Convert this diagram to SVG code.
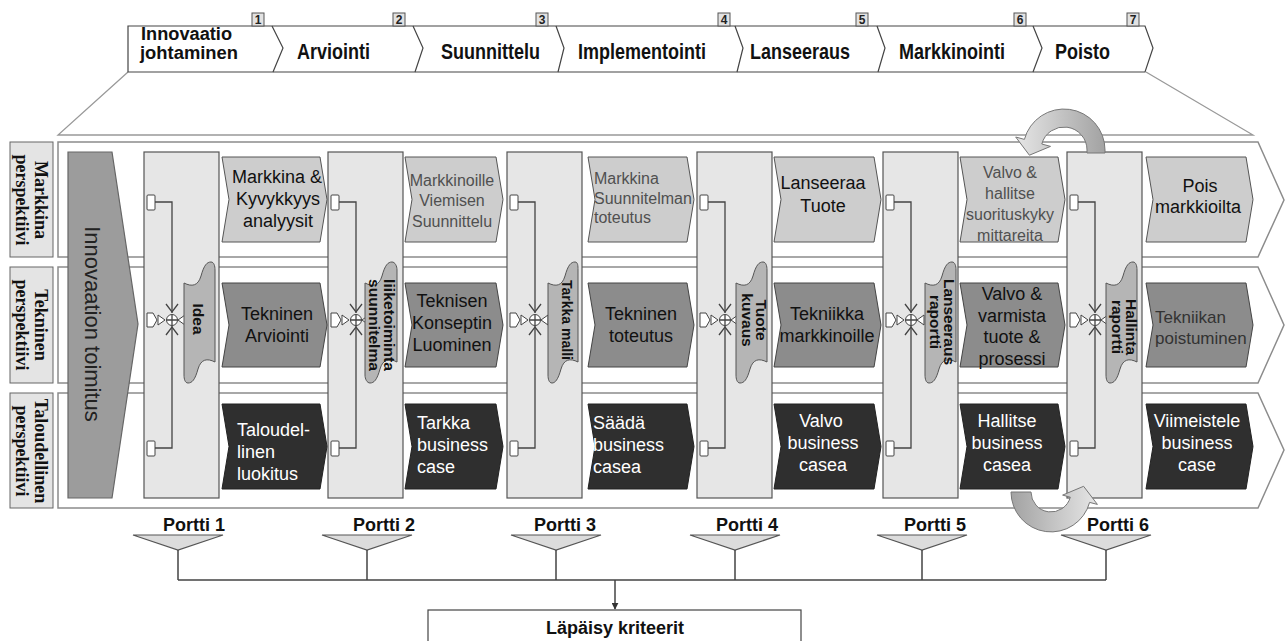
<svg xmlns="http://www.w3.org/2000/svg" width="1286" height="641" viewBox="0 0 1286 641">
<defs>
<style>
.t{font-family:"Liberation Sans",Arial,sans-serif}
.hd{font-size:18px;font-weight:bold;fill:#111}
.num{font-size:12px;font-weight:bold;fill:#222;text-anchor:middle}
.nbox{fill:#e2e2e2;stroke:#555;stroke-width:1}
.tab{fill:#fff;stroke:#444;stroke-width:1.2}
.frame{fill:none;stroke:#999;stroke-width:1.3}
.lane{fill:#fff;stroke:#8c8c8c;stroke-width:1.5}
.lbl{fill:#e4e4e4;stroke:#666;stroke-width:1}
.lt{font-family:"Liberation Serif","Times New Roman",serif;font-size:18px;font-weight:bold;fill:#111;text-anchor:middle}
.gate{fill:#e6e6e6;stroke:#555;stroke-width:1.2}
.b1{fill:#cdcdcd;stroke:#555}
.b2{fill:#8c8c8c;stroke:#444}
.b3{fill:#2f2f2f;stroke:#222}
.bx{font-size:18px;fill:#111}
.gx{font-size:16px;fill:#505050}
.dx{font-size:17px;fill:#333}
.wx{font-size:18px;fill:#fff}
.mid{text-anchor:middle}
.doc{fill:#b5b5b5;stroke:#555;stroke-width:1}
.dt{font-size:15.5px;font-weight:bold;fill:#111;text-anchor:middle}
.port{fill:#fff;stroke:#444;stroke-width:1}
.wire{fill:none;stroke:#444;stroke-width:1.3}
.pt{font-size:18px;font-weight:bold;fill:#111;text-anchor:middle}
.funnel{fill:#dcdcdc;stroke:#555;stroke-width:1.2}
.link{fill:none;stroke:#444;stroke-width:1.5}
.loop{stroke:#777;stroke-width:1}
</style>
<linearGradient id="gTop" x1="0" y1="0" x2="1" y2="0">
<stop offset="0" stop-color="#e6e6e6"/><stop offset="1" stop-color="#a2a2a2"/>
</linearGradient>
<linearGradient id="gBot" x1="0" y1="0" x2="1" y2="0">
<stop offset="0" stop-color="#a2a2a2"/><stop offset="1" stop-color="#e6e6e6"/>
</linearGradient>
<marker id="arr" viewBox="0 0 10 10" refX="9" refY="5" markerWidth="7" markerHeight="7" orient="auto" markerUnits="userSpaceOnUse">
<path d="M0,0 L10,5 L0,10 Z" fill="#333"/>
</marker>
<!-- wiring inside every gate column, drawn at gate x = 0 -->
<g id="gateWiring">
<rect class="port" x="3" y="195" width="8" height="15" rx="1"/>
<rect class="port" x="3" y="441" width="8" height="15" rx="1"/>
<path class="wire" d="M11,202 H28 V313"/>
<path class="wire" d="M11,448 H28 V326"/>
<path class="wire" d="M22,304 L28,312 L34,304"/>
<path class="wire" d="M22,335 L28,327 L34,335"/>
<path class="port" d="M3,313 H9 L13,320 L9,327 H3 Z"/>
<path class="port" d="M14,315 L21,320 L14,325 Z"/>
<circle cx="28" cy="320" r="5.5" fill="#fff" stroke="#444"/>
<path class="wire" d="M22.5,320 H33.5 M28,314.5 V325.5"/>
<path class="port" d="M34,320 L41,315 L41,325 Z"/>
</g>
</defs>

<rect width="1286" height="641" fill="#fff"/>

<!-- phase header -->
<g id="phases" class="t">
<path class="frame" d="M128,72 L58,135 L1253,135 L1146,72"/>
<path class="tab" d="M128,26 H1145 L1153,48 L1145,72 H128 Z"/>
<polyline fill="none" stroke="#444" stroke-width="1.2" points="272,26 283,48 273,72"/>
<polyline fill="none" stroke="#444" stroke-width="1.2" points="413,26 423,48 415,72"/>
<polyline fill="none" stroke="#444" stroke-width="1.2" points="556,26 564,48 558,72"/>
<polyline fill="none" stroke="#444" stroke-width="1.2" points="735,26 743,48 737,72"/>
<polyline fill="none" stroke="#444" stroke-width="1.2" points="877,26 885,48 878,72"/>
<polyline fill="none" stroke="#444" stroke-width="1.2" points="1033,26 1042,48 1033,72"/>
<rect class="nbox" x="252" y="13" width="12" height="13"/><text class="num" x="258" y="24">1</text>
<rect class="nbox" x="393" y="13" width="12" height="13"/><text class="num" x="399" y="24">2</text>
<rect class="nbox" x="536" y="13" width="12" height="13"/><text class="num" x="542" y="24">3</text>
<rect class="nbox" x="718" y="13" width="12" height="13"/><text class="num" x="724" y="24">4</text>
<rect class="nbox" x="856" y="13" width="12" height="13"/><text class="num" x="862" y="24">5</text>
<rect class="nbox" x="1014" y="13" width="12" height="13"/><text class="num" x="1020" y="24">6</text>
<rect class="nbox" x="1127" y="13" width="12" height="13"/><text class="num" x="1133" y="24">7</text>
<text class="hd" font-size="16.5"><tspan x="141" y="39.5" textLength="91" lengthAdjust="spacingAndGlyphs">Innovaatio</tspan><tspan x="140" y="59" textLength="98" lengthAdjust="spacingAndGlyphs">johtaminen</tspan></text>
<text class="hd" transform="translate(297,59) scale(1,1.2)">Arviointi</text>
<text class="hd" transform="translate(441,59) scale(1,1.2)">Suunnittelu</text>
<text class="hd" transform="translate(578,59) scale(1,1.2)">Implementointi</text>
<text class="hd" transform="translate(750,59) scale(1,1.2)">Lanseeraus</text>
<text class="hd" transform="translate(899,59) scale(1,1.2)">Markkinointi</text>
<text class="hd" transform="translate(1055,59) scale(1,1.2)">Poisto</text>
</g>

<!-- perspective lanes -->
<g id="lanes">
<path class="lane" d="M58,142 L1258,142 L1284,200 L1258,257 L58,257 Z"/>
<path class="lane" d="M58,267 L1258,267 L1284,325 L1258,383 L58,383 Z"/>
<path class="lane" d="M58,393 L1258,393 L1284,450 L1258,508 L58,508 Z"/>
</g>

<g id="laneLabels">
<rect class="lbl" x="10" y="142" width="43" height="115"/>
<rect class="lbl" x="10" y="267" width="43" height="116"/>
<rect class="lbl" x="10" y="393" width="43" height="115"/>
<text class="lt" transform="translate(0,200) rotate(90)"><tspan x="0" y="-35">Markkina</tspan><tspan x="0" y="-16">perspektiivi</tspan></text>
<text class="lt" transform="translate(0,325) rotate(90)"><tspan x="0" y="-35">Tekninen</tspan><tspan x="0" y="-16">perspektiivi</tspan></text>
<text class="lt" transform="translate(0,451) rotate(90)"><tspan x="0" y="-35">Taloudellinen</tspan><tspan x="0" y="-16">perspektiivi</tspan></text>
</g>

<!-- innovation delivery -->
<g id="innovaatio">
<path d="M68,152 H112 L138,324 L112,498 H68 Z" fill="#9c9c9c" stroke="#666" stroke-width="1.2"/>
<text class="t" font-size="22" fill="#222" text-anchor="middle" transform="translate(85,324) rotate(90)">Innovaation toimitus</text>
</g>

<!-- gates -->
<g id="gate1">
<rect class="gate" x="144" y="152" width="75" height="346"/>
<use href="#gateWiring" x="144"/>
</g>
<g id="gate2">
<rect class="gate" x="328" y="152" width="75" height="346"/>
<use href="#gateWiring" x="328"/>
</g>
<g id="gate3">
<rect class="gate" x="507" y="152" width="75" height="346"/>
<use href="#gateWiring" x="507"/>
</g>
<g id="gate4">
<rect class="gate" x="697" y="152" width="75" height="346"/>
<use href="#gateWiring" x="697"/>
</g>
<g id="gate5">
<rect class="gate" x="883" y="152" width="75" height="346"/>
<use href="#gateWiring" x="883"/>
</g>
<g id="gate6">
<rect class="gate" x="1067" y="152" width="75" height="346"/>
<use href="#gateWiring" x="1067"/>
</g>

<!-- gate deliverables -->
<g id="deliverables" class="t">
<g id="d1">
<path class="doc" d="M184,283 C192,287 198,286 201,276 C204,265 207,262 211,262 C214,262 215,266 215,270 L215,362 C207,358 201,359 198,369 C195,380 192,383 188,383 C185,383 184,379 184,375 Z"/>
<text class="dt" font-size="18.5" transform="translate(193,319) rotate(90)">Idea</text>
</g>
<g id="d2">
<path class="doc" d="M365,283 C373,287 379,286 382,276 C385,265 388,262 392,262 C395,262 397,266 397,270 L397,362 C389,358 383,359 380,369 C377,380 374,383 370,383 C367,383 365,379 365,375 Z"/>
<text class="dt" font-size="13" transform="translate(0,325) rotate(90)"><tspan x="0" y="-384" textLength="92" lengthAdjust="spacingAndGlyphs">liiketoiminta</tspan><tspan x="0" y="-369" textLength="92" lengthAdjust="spacingAndGlyphs">suunnitelma</tspan></text>
</g>
<g id="d3">
<path class="doc" d="M548,283 C556,287 562,286 565,276 C568,265 571,262 575,262 C578,262 578,266 578,270 L578,362 C570,358 564,359 561,369 C558,380 555,383 552,383 C549,383 548,379 548,375 Z"/>
<text class="dt" font-size="15" transform="translate(562,320) rotate(90)" textLength="80" lengthAdjust="spacingAndGlyphs">Tarkka malli</text>
</g>
<g id="d4">
<path class="doc" d="M736,283 C744,287 750,286 753,276 C756,265 759,262 763,262 C766,262 767,266 767,270 L767,362 C759,358 753,359 750,369 C747,380 744,383 740,383 C737,383 736,379 736,375 Z"/>
<text class="dt" transform="translate(0,320) rotate(90)"><tspan x="0" y="-756">Tuote</tspan><tspan x="0" y="-742">kuvaus</tspan></text>
</g>
<g id="d5">
<path class="doc" d="M925,283 C933,287 939,286 942,276 C945,265 948,262 952,262 C955,262 956,266 956,270 L956,362 C948,358 942,359 939,369 C936,380 933,383 929,383 C926,383 925,379 925,375 Z"/>
<text class="dt" transform="translate(0,322) rotate(90)"><tspan x="0" y="-944">Lanseeraus</tspan><tspan x="0" y="-930">raportti</tspan></text>
</g>
<g id="d6">
<path class="doc" d="M1106,283 C1114,287 1120,286 1123,276 C1126,265 1129,262 1133,262 C1136,262 1137,266 1137,270 L1137,362 C1129,358 1123,359 1120,369 C1117,380 1114,383 1110,383 C1107,383 1106,379 1106,375 Z"/>
<text class="dt" transform="translate(0,327) rotate(90)"><tspan x="0" y="-1126">Hallinta</tspan><tspan x="0" y="-1112">raportti</tspan></text>
</g>
</g>

<!-- market perspective activities -->
<g id="row1" class="t">
<g id="m1"><path class="b1" d="M222,157 L320,157 L327,199.5 L320,242 L222,242 L229,199.5 Z"/>
<text class="bx mid"><tspan x="277" y="183">Markkina &amp;</tspan><tspan x="278" y="205">Kyvykkyys</tspan><tspan x="278" y="227">analyysit</tspan></text></g>
<g id="m2"><path class="b1" d="M405,157 L496,157 L503,199.5 L496,242 L405,242 L412,199.5 Z"/>
<text class="gx mid"><tspan x="452" y="186">Markkinoille</tspan><tspan x="452" y="206">Viemisen</tspan><tspan x="452" y="227">Suunnittelu</tspan></text></g>
<g id="m3"><path class="b1" d="M588,157 L687,157 L694,199.5 L687,242 L588,242 L595,199.5 Z"/>
<text class="gx"><tspan x="594" y="184">Markkina</tspan><tspan x="594" y="204">Suunnitelman</tspan><tspan x="594" y="223">toteutus</tspan></text></g>
<g id="m4"><path class="b1" d="M774,157 L874,157 L881,199.5 L874,242 L774,242 L781,199.5 Z"/>
<text class="bx mid"><tspan x="823" y="189">Lanseeraa</tspan><tspan x="823" y="212">Tuote</tspan></text></g>
<g id="m5"><path class="b1" d="M960,157 L1058,157 L1065,199.5 L1058,242 L960,242 L967,199.5 Z"/>
<text class="gx mid" font-size="16.5"><tspan x="1010" y="178">Valvo &amp;</tspan><tspan x="1010" y="198.5">hallitse</tspan><tspan x="1010" y="219.5">suorituskyky</tspan><tspan x="1010" y="240.5">mittareita</tspan></text></g>
<g id="m6"><path class="b1" d="M1146,157 L1246,157 L1253,199.5 L1246,242 L1146,242 L1153,199.5 Z"/>
<text class="bx mid"><tspan x="1200" y="192">Pois</tspan><tspan x="1198" y="213">markkioilta</tspan></text></g>
</g>

<!-- technical perspective activities -->
<g id="row2" class="t">
<g id="k1"><path class="b2" d="M222,283 L320,283 L327,325 L320,367 L222,367 L229,325 Z"/>
<text class="bx mid"><tspan x="277" y="320">Tekninen</tspan><tspan x="277" y="342">Arviointi</tspan></text></g>
<g id="k2"><path class="b2" d="M405,283 L496,283 L503,325 L496,367 L405,367 L412,325 Z"/>
<text class="bx mid"><tspan x="452" y="307">Teknisen</tspan><tspan x="452" y="329">Konseptin</tspan><tspan x="452" y="351">Luominen</tspan></text></g>
<g id="k3"><path class="b2" d="M588,283 L687,283 L694,325 L687,367 L588,367 L595,325 Z"/>
<text class="bx mid"><tspan x="641" y="320">Tekninen</tspan><tspan x="641" y="342">toteutus</tspan></text></g>
<g id="k4"><path class="b2" d="M774,283 L874,283 L881,325 L874,367 L774,367 L781,325 Z"/>
<text class="bx mid"><tspan x="827" y="320">Tekniikka</tspan><tspan x="827" y="342">markkinoille</tspan></text></g>
<g id="k5"><path class="b2" d="M960,283 L1058,283 L1065,325 L1058,367 L960,367 L967,325 Z"/>
<text class="bx mid"><tspan x="1012" y="300">Valvo &amp;</tspan><tspan x="1012" y="322">varmista</tspan><tspan x="1012" y="343">tuote &amp;</tspan><tspan x="1012" y="365">prosessi</tspan></text></g>
<g id="k6"><path class="b2" d="M1146,283 L1246,283 L1253,325 L1246,367 L1146,367 L1153,325 Z"/>
<text class="dx"><tspan x="1155" y="323">Tekniikan</tspan><tspan x="1155" y="344">poistuminen</tspan></text></g>
</g>

<!-- financial perspective activities -->
<g id="row3" class="t">
<g id="f1"><path class="b3" d="M222,404 L320,404 L327,446.5 L320,489 L222,489 L229,446.5 Z"/>
<text class="wx"><tspan x="237" y="436">Taloudel-</tspan><tspan x="237" y="458">linen</tspan><tspan x="237" y="480">luokitus</tspan></text></g>
<g id="f2"><path class="b3" d="M405,404 L496,404 L503,446.5 L496,489 L405,489 L412,446.5 Z"/>
<text class="wx"><tspan x="417" y="429">Tarkka</tspan><tspan x="417" y="451">business</tspan><tspan x="417" y="473">case</tspan></text></g>
<g id="f3"><path class="b3" d="M588,404 L687,404 L694,446.5 L687,489 L588,489 L595,446.5 Z"/>
<text class="wx"><tspan x="593" y="429">Säädä</tspan><tspan x="593" y="451">business</tspan><tspan x="593" y="473">casea</tspan></text></g>
<g id="f4"><path class="b3" d="M774,404 L874,404 L881,446.5 L874,489 L774,489 L781,446.5 Z"/>
<text class="wx mid"><tspan x="821" y="427">Valvo</tspan><tspan x="823" y="449">business</tspan><tspan x="823" y="471">casea</tspan></text></g>
<g id="f5"><path class="b3" d="M960,404 L1058,404 L1065,446.5 L1058,489 L960,489 L967,446.5 Z"/>
<text class="wx mid"><tspan x="1007" y="427">Hallitse</tspan><tspan x="1007" y="449">business</tspan><tspan x="1007" y="471">casea</tspan></text></g>
<g id="f6"><path class="b3" d="M1146,404 L1246,404 L1253,446.5 L1246,489 L1146,489 L1153,446.5 Z"/>
<text class="wx mid"><tspan x="1197" y="427">Viimeistele</tspan><tspan x="1197" y="449">business</tspan><tspan x="1197" y="471">case</tspan></text></g>
</g>

<!-- feedback loops around gate 6 -->
<g id="loops">
<path class="loop" fill="url(#gTop)" d="M1087,153 L1087,150 A23,23 0 0 0 1041.8,144 L1050.5,146.4 L1029.4,155.2 L1015.7,137 L1024.4,139.4 A41,41 0 0 1 1105,150 L1105,153 Z"/>
<path class="loop" fill="url(#gBot)" d="M1011,492 A40,40 0 0 0 1089.6,502.4 L1097.4,504.4 L1083.6,486.3 L1062.6,495.1 L1070.3,497.2 A20,20 0 0 1 1031,492 Z"/>
</g>

<!-- gate criteria connectors -->
<g id="connectors">
<polygon class="funnel" points="133,535 223,535 178,550"/>
<polygon class="funnel" points="322,535 412,535 367,550"/>
<polygon class="funnel" points="511,535 601,535 556,550"/>
<polygon class="funnel" points="690,535 780,535 735,550"/>
<polygon class="funnel" points="877,535 967,535 922,550"/>
<polygon class="funnel" points="1061,535 1151,535 1106,550"/>
<path class="link" d="M178,550 V580 M367,550 V580 M556,550 V580 M735,550 V580 M922,550 V580 M1106,550 V580 M178,580 H1106"/>
<path class="link" d="M615,580 V609" marker-end="url(#arr)"/>
</g>

<g id="porttiLabels" class="t">
<text class="pt" x="194" y="531">Portti 1</text>
<text class="pt" x="384" y="531">Portti 2</text>
<text class="pt" x="565" y="531">Portti 3</text>
<text class="pt" x="747" y="531">Portti 4</text>
<text class="pt" x="935" y="531">Portti 5</text>
<text class="pt" x="1118" y="531">Portti 6</text>
</g>

<g id="kriteerit" class="t">
<rect x="428" y="610" width="373" height="40" fill="#fff" stroke="#444" stroke-width="1.2"/>
<text class="pt" x="615" y="634">Läpäisy kriteerit</text>
</g>
</svg>
